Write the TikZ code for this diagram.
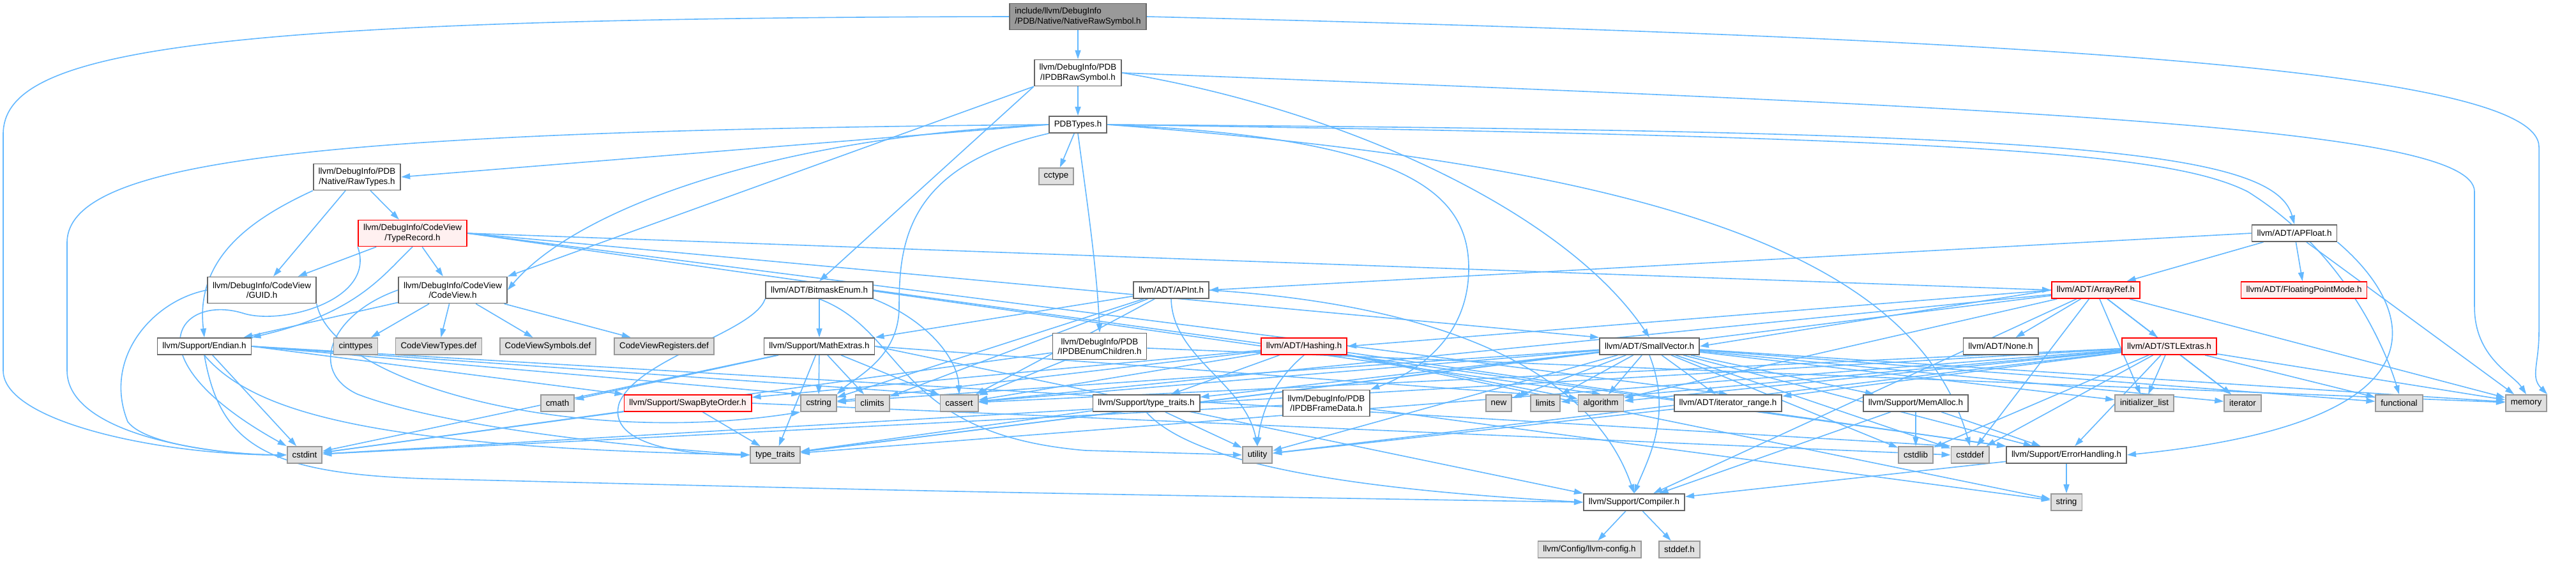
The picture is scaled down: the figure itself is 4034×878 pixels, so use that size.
\documentclass[tikz,border=0pt]{standalone}
\usepackage{fontspec}
\setmainfont{Liberation Sans}
\usetikzlibrary{arrows.meta}
\definecolor{edgec}{HTML}{63B8FF}
\definecolor{boxborder}{HTML}{666666}
\definecolor{sysfill}{HTML}{E0E0E0}
\definecolor{sysborder}{HTML}{999999}
\definecolor{redfill}{HTML}{FFF0F0}
\definecolor{rootfill}{HTML}{999999}
\pgfdeclarelayer{paper}
\pgfdeclarelayer{edges}
\pgfsetlayers{paper,edges,main}
\tikzset{
  box/.style={draw=boxborder, line width=1.8pt, fill=white, font=\fontsize{13.4}{15.5}\selectfont,
    inner xsep=8pt, inner ysep=2pt, minimum height=26pt, align=center},
  sys/.style={box, fill=sysfill, draw=sysborder},
  trunc/.style={box, fill=redfill, draw=red},
  rootbox/.style={box, fill=rootfill, align=left},
  two/.style={minimum height=41pt},
  e/.style={draw=edgec, line width=1.6pt, -{Triangle[length=14pt,width=9pt]}}
}
\begin{document}
\begin{tikzpicture}[x=1pt,y=-1pt]
\begin{pgfonlayer}{paper}
\fill[white] (0,0) rectangle (4034,878);
\end{pgfonlayer}
\useasboundingbox (0,0) rectangle (4034,878);
% nodes
\node[rootbox,two] (root) at (1688,26) {include/llvm/DebugInfo\\/PDB/Native/NativeRawSymbol.h};
\node[box,two] (ipdbraw) at (1688,114) {llvm/DebugInfo/PDB\\/IPDBRawSymbol.h};
\node[box] (pdbtypes) at (1688,195) {PDBTypes.h};
\node[sys] (cctype) at (1654,276) {cctype};
\node[box,two] (rawtypes) at (559,277) {llvm/DebugInfo/PDB\\/Native/RawTypes.h};
\node[trunc,two] (typerecord) at (646,365) {llvm/DebugInfo/CodeView\\/TypeRecord.h};
\node[box] (apfloat) at (3593,365) {llvm/ADT/APFloat.h};
\node[box,two] (guid) at (410,454) {llvm/DebugInfo/CodeView\\/GUID.h};
\node[box,two] (codeview) at (709,454) {llvm/DebugInfo/CodeView\\/CodeView.h};
\node[box] (bitmask) at (1283,454) {llvm/ADT/BitmaskEnum.h};
\node[box] (apint) at (1834,454) {llvm/ADT/APInt.h};
\node[trunc] (arrayref) at (3282,454) {llvm/ADT/ArrayRef.h};
\node[trunc] (fpmode) at (3608,454) {llvm/ADT/FloatingPointMode.h};
\node[box] (endian) at (320,542) {llvm/Support/Endian.h};
\node[sys] (cinttypes) at (557,542) {cinttypes};
\node[sys] (cvtypes) at (687,542) {CodeViewTypes.def};
\node[sys] (cvsymbols) at (858,542) {CodeViewSymbols.def};
\node[sys] (cvregisters) at (1040,542) {CodeViewRegisters.def};
\node[box] (mathextras) at (1283,542) {llvm/Support/MathExtras.h};
\node[box,two] (enumch) at (1722,542) {llvm/DebugInfo/PDB\\/IPDBEnumChildren.h};
\node[trunc] (hashing) at (2042,542) {llvm/ADT/Hashing.h};
\node[box] (smallvector) at (2583,542) {llvm/ADT/SmallVector.h};
\node[box] (none) at (3133,542) {llvm/ADT/None.h};
\node[trunc] (stlextras) at (3397,542) {llvm/ADT/STLExtras.h};
\node[sys] (cmath) at (873,631) {cmath};
\node[trunc] (swap) at (1077,631) {llvm/Support/SwapByteOrder.h};
\node[sys] (cstring) at (1282,631) {cstring};
\node[sys] (climits) at (1366,631) {climits};
\node[sys] (cassert) at (1502,631) {cassert};
\node[box] (tth) at (1795,631) {llvm/Support/type\_traits.h};
\node[box,two] (framedata) at (2077,631) {llvm/DebugInfo/PDB\\/IPDBFrameData.h};
\node[sys] (new) at (2347,631) {new};
\node[sys] (limits) at (2420,631) {limits};
\node[sys] (algorithm) at (2507,631) {algorithm};
\node[box] (itrange) at (2706,631) {llvm/ADT/iterator\_range.h};
\node[box] (memalloc) at (3000,631) {llvm/Support/MemAlloc.h};
\node[sys] (initlist) at (3358,631) {initializer\_list};
\node[sys] (iterator) at (3512,631) {iterator};
\node[sys] (functional) at (3757,631) {functional};
\node[sys] (memory) at (3956,631) {memory};
\node[sys] (cstdint) at (477,712) {cstdint};
\node[sys] (typetraits) at (1214,712) {type\_traits};
\node[sys] (utility) at (1969,712) {utility};
\node[sys] (cstdlib) at (3000,712) {cstdlib};
\node[sys] (cstddef) at (3085,712) {cstddef};
\node[box] (errh) at (3236,712) {llvm/Support/ErrorHandling.h};
\node[box] (compiler) at (2559,786) {llvm/Support/Compiler.h};
\node[sys] (string) at (3236,786) {string};
\node[sys] (llvmconfig) at (2489,860) {llvm/Config/llvm-config.h};
\node[sys] (stddef) at (2630,860) {stddef.h};

\begin{pgfonlayer}{edges}
% root
\draw[e] (root) -- (ipdbraw);
\draw[e] (root.west) .. controls (300,28) and (5,80) .. (5,210) -- (5,580) .. controls (5,660) and (250,712) .. (cstdint.west);
\draw[e] (root.east) .. controls (3200,60) and (3976,110) .. (3976,230) -- (3976,520) .. controls (3976,570) and (3962,590) .. (memory.north east);
% IPDBRawSymbol
\draw[e] (ipdbraw) -- (pdbtypes);
\draw[e] (ipdbraw.south west) -- (bitmask.north);
\draw[e] (ipdbraw.south west) -- (codeview.north east);
\draw[e] (ipdbraw.east) .. controls (2100,170) and (2450,330) .. (smallvector.north);
\draw[e] (ipdbraw.east) .. controls (3200,170) and (3875,200) .. (3875,300) -- (3875,480) .. controls (3875,560) and (3935,585) .. (memory.north);
% PDBTypes
\draw[e] (pdbtypes) -- (cctype);
\draw[e] (pdbtypes.south) .. controls (1700,300) and (1718,420) .. (enumch.north);
\draw[e] (pdbtypes.west) -- (rawtypes.east);
\draw[e] (pdbtypes.west) .. controls (1200,215) and (900,330) .. (codeview.east);
\draw[e] (pdbtypes.west) .. controls (500,205) and (105,250) .. (105,380) -- (105,580) .. controls (105,680) and (330,712) .. (cstdint.west);
\draw[e] (pdbtypes.south west) .. controls (1420,260) and (1408,380) .. (1408,480) .. controls (1408,560) and (1340,590) .. (cstring.north east);
\draw[e] (pdbtypes.east) .. controls (2200,215) and (2300,300) .. (2300,420) .. controls (2300,540) and (2200,590) .. (framedata.north east);
\draw[e] (pdbtypes.east) .. controls (3200,205) and (3560,230) .. (apfloat.north);
\draw[e] (pdbtypes.east) .. controls (3100,215) and (3400,240) .. (3520,300) .. controls (3680,400) and (3740,560) .. (functional.north);
\draw[e] (pdbtypes.east) .. controls (2600,260) and (3000,400) .. (cstddef.north);
% RawTypes
\draw[e] (rawtypes) -- (guid);
\draw[e] (rawtypes) -- (typerecord);
\draw[e] (rawtypes.south west) .. controls (400,340) and (305,400) .. (endian.north);
% TypeRecord
\draw[e] (typerecord) -- (guid);
\draw[e] (typerecord) -- (codeview);
\draw[e] (typerecord.south) .. controls (600,430) and (560,490) .. (endian.north east);
\draw[e] (typerecord.south west) .. controls (590,470) and (440,510) .. (380,490) .. controls (280,460) and (200,560) .. (cstdint.north west);
\draw[e] (typerecord.east) -- (arrayref.west);
\draw[e] (typerecord.east) -- (smallvector.north west);
\draw[e] (typerecord.east) -- (itrange.north);
\draw[e] (typerecord.east) -- (algorithm.north);
% GUID
\draw[e] (guid.west) .. controls (240,470) and (160,560) .. (200,660) .. controls (230,700) and (380,712) .. (cstdint.west);
\draw[e] (guid.south east) .. controls (520,600) and (900,700) .. (cstring.south west);
% CodeView
\draw[e] (codeview) -- (endian);
\draw[e] (codeview) -- (cinttypes);
\draw[e] (codeview) -- (cvtypes);
\draw[e] (codeview) -- (cvsymbols);
\draw[e] (codeview) -- (cvregisters);
\draw[e] (codeview.west) .. controls (520,490) and (480,580) .. (560,617) .. controls (700,670) and (1000,700) .. (typetraits.west);
% Endian
\draw[e] (endian) -- (cstdint);
\draw[e] (endian.south) .. controls (400,650) and (600,700) .. (typetraits.west);
\draw[e] (endian.south) .. controls (345,700) and (420,745) .. (700,750) .. controls (1500,770) .. (compiler.west);
\draw[e] (endian.east) -- (swap.north west);
\draw[e] (endian.east) -- (cstring.north west);
\draw[e] (endian.east) -- (cassert.north west);
\draw[e] (endian.east) -- (cstddef.north west);
% SwapByteOrder
\draw[e] (swap) -- (cstdint);
\draw[e] (swap) -- (typetraits);
\draw[e] (swap.east) -- (cstddef.west);
% BitmaskEnum
\draw[e] (bitmask) -- (mathextras);
\draw[e] (bitmask.south east) .. controls (1450,500) and (1500,560) .. (cassert.north);
\draw[e] (bitmask.south west) .. controls (1180,520) and (1000,560) .. (970,630) .. controls (950,690) and (1050,712) .. (typetraits.west);
\draw[e] (bitmask.south) .. controls (1420,520) and (1400,680) .. (1700,705) -- (utility.west);
\draw[e] (bitmask.east) -- (errh.north west);
% MathExtras
\draw[e] (mathextras) -- (cmath);
\draw[e] (mathextras) -- (cstring);
\draw[e] (mathextras) -- (climits);
\draw[e] (mathextras) -- (cassert);
\draw[e] (mathextras) -- (cstdint);
\draw[e] (mathextras) -- (typetraits);
\draw[e] (mathextras.east) -- (limits.north west);
\draw[e] (mathextras.east) -- (compiler.north west);
% APInt
\draw[e] (apint) -- (mathextras.north east);
\draw[e] (apint) -- (cassert);
\draw[e] (apint) -- (climits);
\draw[e] (apint) -- (cstring);
\draw[e] (apint.south) .. controls (1836,560) and (1950,600) .. (utility.north);
\draw[e] (apint.east) .. controls (2300,480) and (2500,600) .. (compiler.north);
% APFloat
\draw[e] (apfloat.west) -- (apint.east);
\draw[e] (apfloat) -- (arrayref);
\draw[e] (apfloat) -- (fpmode);
\draw[e] (apfloat.south east) .. controls (3780,480) and (3850,660) .. (errh.east);
\draw[e] (apfloat) -- (memory);
% ArrayRef
\draw[e] (arrayref.west) -- (hashing.east);
\draw[e] (arrayref) -- (none);
\draw[e] (arrayref) -- (stlextras);
\draw[e] (arrayref.west) -- (smallvector.east);
\draw[e] (arrayref) -- (compiler);
\draw[e] (arrayref) -- (algorithm);
\draw[e] (arrayref) -- (cassert);
\draw[e] (arrayref) -- (cstddef);
\draw[e] (arrayref) -- (initlist);
\draw[e] (arrayref) -- (iterator);
\draw[e] (arrayref) -- (memory);
\draw[e] (arrayref) -- (typetraits);
% IPDBEnumChildren
\draw[e] (enumch) -- (cassert);
\draw[e] (enumch) -- (cstdint);
\draw[e] (enumch) -- (memory);
% IPDBFrameData
\draw[e] (framedata) -- (cstdint);
\draw[e] (framedata) -- (string);
% Hashing
\draw[e] (hashing) -- (errh);
\draw[e] (hashing) -- (swap);
\draw[e] (hashing) -- (tth);
\draw[e] (hashing) -- (algorithm);
\draw[e] (hashing) -- (cassert);
\draw[e] (hashing) -- (cstring);
\draw[e] (hashing) -- (string);
\draw[e] (hashing.south) .. controls (1990,600) and (1975,650) .. (utility.north);
% llvm/Support/type_traits.h
\draw[e] (tth) -- (utility);
\draw[e] (tth) -- (typetraits);
\draw[e] (tth.south) .. controls (1880,740) and (2200,770) .. (compiler.west);
% SmallVector
\draw[e] (smallvector.south) .. controls (2620,650) and (2580,720) .. (compiler.north);
\draw[e] (smallvector) -- (tth);
\draw[e] (smallvector) -- (algorithm);
\draw[e] (smallvector) -- (cassert);
\draw[e] (smallvector) -- (cstddef);
\draw[e] (smallvector) -- (cstdlib);
\draw[e] (smallvector) -- (cstring);
\draw[e] (smallvector) -- (functional);
\draw[e] (smallvector) -- (initlist);
\draw[e] (smallvector) -- (iterator);
\draw[e] (smallvector) -- (limits);
\draw[e] (smallvector) -- (memory);
\draw[e] (smallvector) -- (new);
\draw[e] (smallvector) -- (typetraits);
\draw[e] (smallvector) -- (utility);
\draw[e] (smallvector) -- (itrange);
\draw[e] (smallvector) -- (memalloc);
\draw[e] (smallvector) -- (errh);
% STLExtras
\draw[e] (stlextras) -- (errh);
\draw[e] (stlextras) -- (algorithm);
\draw[e] (stlextras) -- (cassert);
\draw[e] (stlextras) -- (cstddef);
\draw[e] (stlextras) -- (cstdint);
\draw[e] (stlextras) -- (cstdlib);
\draw[e] (stlextras) -- (functional);
\draw[e] (stlextras) -- (initlist);
\draw[e] (stlextras) -- (iterator);
\draw[e] (stlextras) -- (limits);
\draw[e] (stlextras) -- (memory);
\draw[e] (stlextras) -- (typetraits);
\draw[e] (stlextras) -- (utility);
\draw[e] (stlextras) -- (itrange);
% others
\draw[e] (itrange) -- (utility);
\draw[e] (memalloc) -- (compiler);
\draw[e] (memalloc) -- (errh);
\draw[e] (memalloc) -- (cstdlib);
\draw[e] (errh) -- (compiler);
\draw[e] (errh) -- (string);
\draw[e] (compiler) -- (llvmconfig);
\draw[e] (compiler) -- (stddef);
\end{pgfonlayer}
\end{tikzpicture}
\end{document}
